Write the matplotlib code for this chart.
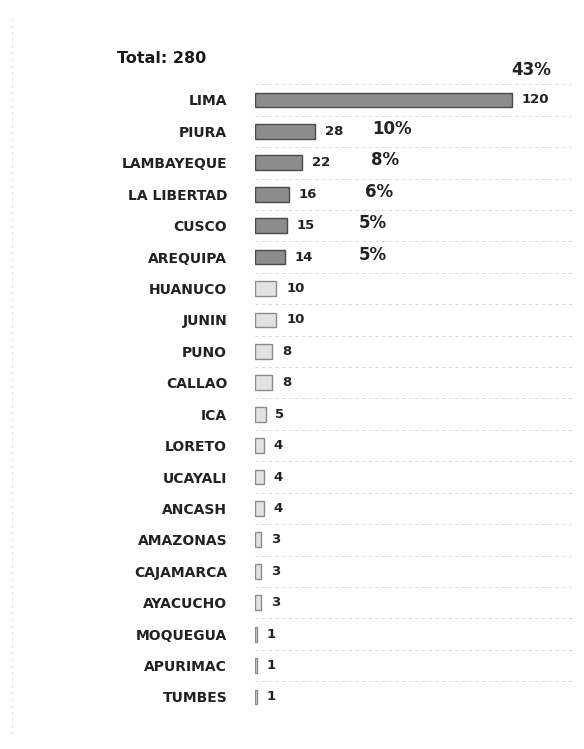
import matplotlib.pyplot as plt
from matplotlib.lines import Line2D

# datos por departamento
departamentos = ['LIMA', 'PIURA', 'LAMBAYEQUE', 'LA LIBERTAD', 'CUSCO', 'AREQUIPA',
                 'HUANUCO', 'JUNIN', 'PUNO', 'CALLAO', 'ICA', 'LORETO', 'UCAYALI',
                 'ANCASH', 'AMAZONAS', 'CAJAMARCA', 'AYACUCHO', 'MOQUEGUA',
                 'APURIMAC', 'TUMBES']
casos = [120, 28, 22, 16, 15, 14, 10, 10, 8, 8, 5, 4, 4, 4, 3, 3, 3, 1, 1, 1]
porcentajes = ['43%', '10%', '8%', '6%', '5%', '5%']
# posicion (x en datos) de las etiquetas de porcentaje
pct_x = [129, 64, 61, 58, 55, 55]
total = 280

plt.rcParams['font.family'] = ['DejaVu Sans']

fig = plt.figure(figsize=(5.84, 7.49), dpi=100)
ax = fig.add_axes([0.4366, 0.0485, 0.548, 0.839])

n = len(departamentos)
ys = list(range(n))
colores = ['#8c8c8c' if i < 6 else '#e2e2e2' for i in range(n)]
bordes = ['#4a4a4a' if i < 6 else '#8a8a8a' for i in range(n)]
ax.barh(ys, casos, height=0.47, color=colores, edgecolor=bordes, linewidth=1.0)

# lineas guia entre filas
for i in range(n + 1):
    ax.axhline(i - 0.5, color='#d4d4d4', lw=0.6, ls=(0, (4, 4)))

# valores
for y, v in zip(ys, casos):
    ax.annotate(str(v), (v, y), xytext=(7, 0), textcoords='offset points',
                va='center', ha='left', fontsize=9.5, fontweight='bold',
                color='#222222')

# porcentajes
for i, (p, px) in enumerate(zip(porcentajes, pct_x)):
    dy = -0.95 if i == 0 else -0.08
    ax.text(px, i + dy, p, va='center', ha='center', fontsize=12,
            fontweight='bold', color='#222222')

ax.set_xlim(0, 149.5)
ax.set_ylim(n - 0.5, -0.5)
ax.set_yticks(ys)
ax.set_yticklabels(departamentos, fontsize=10, fontweight='bold', color='#222222')
ax.tick_params(axis='y', length=0, pad=20)
ax.set_xticks([])
for s in ax.spines.values():
    s.set_visible(False)

fig.text(0.2, 0.922, f'Total: {total}', fontsize=11.5, fontweight='bold',
         color='#1a1a1a', ha='left', va='center')

# borde punteado del escaneo
fig.add_artist(Line2D([0.02, 0.02], [0.02, 0.98], color='#d8d8d8', lw=0.6,
                      ls=(0, (3, 5)), transform=fig.transFigure))

fig.savefig('out.png', dpi=100, facecolor='white')
